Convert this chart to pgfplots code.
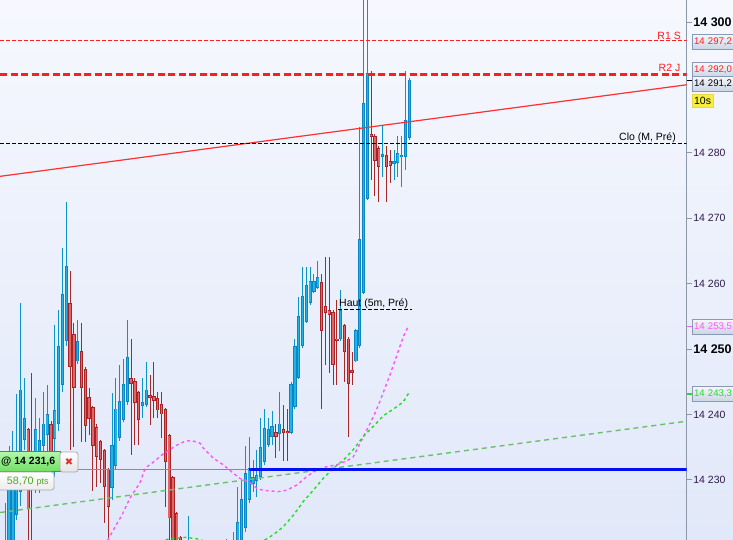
\documentclass[border=0pt]{standalone}
\usepackage{fontspec}
\setmainfont{Liberation Sans}
\newfontfamily\dejavu{DejaVu Sans}
\usepackage{pgfplots}
\usepackage{pgfplotstable}
\pgfplotsset{compat=1.18}

\definecolor{bgtop}{HTML}{F6F8FE}
\definecolor{bgbot}{HTML}{E1E8F9}
\definecolor{axisgray}{HTML}{8A98A8}
\definecolor{ticktext}{HTML}{2E1A4A}
\definecolor{bluefill}{HTML}{22B2E6}
\definecolor{blueedge}{HTML}{0A86C4}
\definecolor{bluewick}{HTML}{0A94CC}
\definecolor{redfill}{HTML}{E26464}
\definecolor{rededge}{HTML}{A82424}
\definecolor{redwick}{HTML}{A82828}
\definecolor{pinkma}{HTML}{FF55FF}
\definecolor{greenma}{HTML}{26DC26}
\definecolor{greenline}{HTML}{6CC06C}
\definecolor{levelred}{HTML}{FF1E1E}
\definecolor{trendred}{HTML}{FF3030}
\definecolor{bluelevel}{HTML}{0010F0}
\definecolor{graylevel}{HTML}{8C8C8C}
\definecolor{boxedge}{HTML}{8A9AB4}
\definecolor{boxtop}{HTML}{F4F6FA}
\definecolor{boxbot}{HTML}{CCD5E4}
\definecolor{ptsgreen}{HTML}{4CA820}

% candles: i O H L C
\pgfplotstableread{
i O H L C
0 14218 14226.5 14216 14220.5
1 14219 14235.1 14217 14231.5
2 14219 14237.4 14217 14233
3 14224.6 14243.1 14223.8 14234
4 14228.2 14257.0 14226 14243.8
5 14236.1 14245.5 14234.6 14239.5
8 14231 14242.5 14228 14237.7
9 14230 14239.5 14228 14236.1
10 14235.2 14243.5 14233.5 14238.6
11 14236.8 14244.5 14234.1 14240.1
13 14236.3 14253.7 14230.5 14240.7
14 14238.5 14256.0 14237.5 14250.5
15 14244.5 14265.4 14243.5 14258.4
16 14251.3 14272.5 14250.5 14262.7
19 14248.1 14254.4 14247.7 14251.2
28 14228.7 14243.3 14226.9 14235.3
29 14232.1 14245.5 14231.5 14240.9
30 14236.4 14247.6 14236 14242.0
31 14239.2 14248.4 14238.8 14244.7
32 14241.9 14254.4 14241.5 14248.8
36 14241.3 14245.5 14239.4 14241.9
37 14241.4 14248.0 14241.2 14243.8
48 14213 14224.5 14212 14218
51 14212 14218 14210 14215
53 14213 14218.5 14212 14216
54 14216 14219 14214 14217
56 14215 14219.5 14214 14217.5
57 14217.5 14220 14216 14218.5
58 14218.5 14221.0 14217 14219.5
59 14219 14220.5 14217.5 14220
60 14219 14222.1 14218 14220.5
61 14219.5 14228.9 14218 14223.5
62 14220 14229.9 14219 14227.0
63 14222.7 14235.1 14222 14231.0
64 14226.9 14236.5 14226.5 14231.8
65 14229.4 14233.0 14228.2 14230.4
66 14229.8 14234.6 14227.4 14230.7
67 14230.4 14239.4 14230 14235.0
68 14232.7 14240.9 14232.3 14237.9
69 14235.3 14239.4 14235.0 14237.7
70 14236.5 14240.5 14235.3 14238.2
72 14237.0 14243.4 14234.4 14238.6
75 14237.2 14244.9 14237 14244.7
76 14241.1 14251.6 14240.9 14250.5
77 14245.6 14258.0 14245.4 14255.0
78 14250.4 14262.5 14250.2 14258.1
79 14254.2 14262.5 14254 14259.8
80 14257.0 14262.5 14256.8 14260.4
81 14258.7 14261.5 14258.5 14260.4
82 14259.4 14263.4 14259.2 14261.0
88 14251.5 14259.0 14251.3 14255.9
92 14248.1 14253.0 14248 14252.9
93 14250.4 14284.0 14250.2 14266.8
94 14258.6 14305 14258.4 14287.6
95 14273.0 14305 14272.8 14292.2
99 14279.3 14284.1 14276.3 14279.8
102 14278.3 14280.4 14275.8 14278.7
103 14278.5 14282.6 14276.3 14279.9
104 14279.3 14282.6 14274.8 14279.7
105 14279.4 14292.5 14277.4 14285.0
106 14282.2 14291.4 14282 14291.2
}\bluec

\pgfplotstableread{
i O H L C
6 14237.7 14238.0 14219 14225.6
7 14233 14246.4 14219 14229
12 14238.5 14239 14231 14233
17 14257.0 14261.9 14234.6 14247.3
18 14252.3 14253.9 14235.0 14244.0
20 14249.7 14253.9 14235.8 14244.0
21 14247.0 14247.2 14235.8 14238.3
22 14242.6 14244.0 14236.8 14239.3
23 14241.1 14241.3 14228.3 14235.2
24 14238.1 14238.5 14228.9 14233.5
25 14235.9 14236.1 14229.5 14233.1
26 14234.5 14234.7 14223.4 14228.9
27 14231.6 14231.8 14219 14225.8
33 14245.5 14251.5 14233.8 14244.7
34 14245.1 14245.5 14235.4 14241.7
35 14243.4 14243.6 14235.4 14239.2
38 14242.9 14246.0 14238.4 14242.5
39 14242.8 14248.0 14239.4 14242.1
40 14242.5 14243.5 14239.4 14240.6
41 14241.6 14243.4 14236.4 14240.0
42 14240.8 14241.0 14225.9 14232.8
43 14236.8 14237.0 14219 14224.1
44 14230.4 14230.6 14216 14219
45 14224.9 14225.1 14215 14218
46 14221.3 14221.4 14213 14216
47 14217 14219 14212 14214
49 14218 14219.5 14213 14215
50 14215 14217 14210 14212
52 14215 14217 14211 14213
55 14217 14219 14213 14215
71 14237.3 14238.5 14233.4 14236.6
73 14237.7 14241.4 14232.9 14237.1
74 14237.5 14240.9 14232.9 14237.1
83 14260.2 14261.5 14240.9 14252.8
84 14256.5 14264.1 14247.6 14255.5
85 14256.0 14264.1 14246.4 14255.2
86 14255.7 14255.9 14244.5 14247.6
87 14251.6 14257.5 14244.5 14251.2
89 14253.6 14253.8 14245.0 14249.6
90 14251.6 14251.8 14236.5 14244.7
91 14246.8 14249.6 14244.5 14246.4
96 14282.8 14292.5 14275.8 14282.4
97 14282.6 14282.8 14273.4 14278.8
98 14280.7 14281.1 14272.4 14277.9
100 14279.7 14281.0 14272.4 14277.8
101 14278.7 14280.4 14275.4 14278.0
}\redc

\pgfplotsset{
  wick/.style={draw=none, mark=none, forget plot,
    error bars/.cd, y dir=plus, y explicit, error mark=none,
    error bar style={draw=#1, line width=1pt}},
  bodyout/.style={draw=none, mark=none, forget plot,
    error bars/.cd, y dir=plus, y explicit, error mark=none,
    error bar style={draw=#1, line width=3.3pt, line cap=butt}},
  bodyin/.style={draw=none, mark=none, forget plot,
    error bars/.cd, y dir=plus, y explicit, error mark=none,
    error bar style={draw=#1, line width=1.5pt, line cap=butt, shorten <=0.9pt, shorten >=0.9pt}},
}

\begin{document}
\begin{tikzpicture}
\path[use as bounding box] (0pt,0pt) rectangle (733pt,540pt);
\clip (0pt,0pt) rectangle (733pt,540pt);
\shade[top color=bgtop, bottom color=bgbot] (0pt,0pt) rectangle (733pt,540pt);
\begin{axis}[
  at={(0pt,0pt)}, anchor=south west,
  scale only axis, width=686.7pt, height=540pt,
  xmin=-1.39, xmax=178.8, ymin=14220.8, ymax=14303.36,
  axis x line=none, axis y line*=right,
  axis line style={draw=axisgray, line width=1pt},
  ytick={14230,14240,14250,14260,14270,14280,14300},
  yticklabels={14 230,14 240,{\color{black}\bfseries\fontsize{12.5}{14}\selectfont 14 250},14 260,14 270,14 280,{\color{black}\bfseries\fontsize{12.5}{14}\selectfont 14 300}},
  tick align=outside, major tick length=5pt,
  ytick style={draw=axisgray, line width=0.8pt},
  yticklabel style={anchor=west, inner sep=0pt, xshift=1.5pt, text=ticktext, font=\fontsize{10.5}{12}\selectfont},
  clip mode=individual,
]
% candles
\addplot[wick=bluewick] table[x=i, y=L, y error plus expr=\thisrow{H}-\thisrow{L}] \bluec;
\addplot[wick=redwick] table[x=i, y=L, y error plus expr=\thisrow{H}-\thisrow{L}] \redc;
\addplot[bodyout=blueedge] table[x=i, y=O, y error plus expr=\thisrow{C}-\thisrow{O}] \bluec;
\addplot[bodyin=bluefill] table[x=i, y=O, y error plus expr=\thisrow{C}-\thisrow{O}] \bluec;
\addplot[bodyout=rededge] table[x=i, y=C, y error plus expr=\thisrow{O}-\thisrow{C}] \redc;
\addplot[bodyin=redfill] table[x=i, y=C, y error plus expr=\thisrow{O}-\thisrow{C}] \redc;

% long green trend
\addplot[greenline, line width=1.4pt, dash pattern=on 5pt off 4pt, forget plot] coordinates {(-1.39,14225.0) (178.8,14238.96)};
% pink moving average
\addplot[pinkma, line width=1.4pt, dash pattern=on 3pt off 3pt, forget plot] coordinates {
(25.9,14220.0) (27.0,14220.9) (28.8,14222.8) (30.6,14224.6) (32.7,14227.2) (35.3,14229.5)
(36.7,14231.8) (38.4,14232.5) (41.5,14234.0) (45.0,14235.3) (47.2,14235.9) (48.9,14236.0)
(51.1,14235.6) (52.0,14234.8) (54.6,14233.3) (57.2,14232.3) (59.0,14231.4) (61.6,14230.2)
(64.2,14229.6) (66.0,14228.7) (67.6,14228.4) (69.5,14228.3) (71.6,14228.2) (73.8,14228.4)
(76.5,14229.2) (79.1,14230.5) (81.7,14231.5) (84.3,14232.0) (87.0,14232.3) (89.6,14232.9)
(91.3,14233.5) (93.1,14235.6) (94.4,14237.1) (95.7,14238.6) (97.0,14240.2) (98.1,14241.7)
(99.6,14244.0) (100.9,14246.0) (102.3,14248.3) (103.6,14250.5) (104.6,14252.1) (105.7,14253.4)};
% green moving average
\addplot[greenma, line width=1.4pt, dash pattern=on 3pt off 3pt, forget plot] coordinates {
(38.0,14219.5) (40.6,14220.6) (43.2,14221.0) (47.2,14221.2) (50.3,14221.0) (52.4,14220.6)
(56.3,14219.2) (61.6,14218.5) (65.5,14219.2) (68.1,14220.8) (70.3,14221.6) (72.9,14222.8)
(75.6,14224.6) (78.2,14226.7) (80.8,14228.4) (83.4,14230.2) (86.1,14231.8) (88.7,14233.0)
(91.3,14234.6) (93.9,14236.6) (96.6,14238.2) (99.2,14239.8) (101.8,14240.8) (104.4,14241.9)
(105.8,14243.2)};
% red trend line
\addplot[trendred, line width=1.2pt, forget plot] coordinates {(-1.39,14276.4) (178.8,14290.4)};
% levels
\addplot[levelred, line width=1pt, dash pattern=on 3.5pt off 2.5pt, forget plot] coordinates {(-1.39,14297.2) (178.8,14297.2)};
\addplot[levelred, line width=2.6pt, dash pattern=on 7pt off 3.5pt, forget plot] coordinates {(-1.39,14292.0) (178.8,14292.0)};
\addplot[black, line width=1pt, dash pattern=on 3.5pt off 2.5pt, forget plot] coordinates {(-1.39,14281.4) (178.8,14281.4)};
\addplot[black, line width=1.2pt, dash pattern=on 3.5pt off 2.5pt, forget plot] coordinates {(87.3,14256.0) (106.7,14256.0)};
\addplot[graylevel, line width=1.2pt, forget plot] coordinates {(-1.39,14231.6) (64.0,14231.6)};
\addplot[bluelevel, line width=3pt, forget plot] coordinates {(64.0,14231.6) (178.8,14231.6)};
\end{axis}

\begin{scope}[x=1pt,y=1pt,
  rbox/.style={anchor=west, draw=boxedge, line width=0.8pt, top color=boxtop, bottom color=boxbot,
    minimum height=14.5pt, inner xsep=2.2pt, inner ysep=0pt, text width=50pt, align=left,
    font=\fontsize{9.6}{11}\selectfont}]
% level labels
\node[anchor=base east, text=levelred, font=\fontsize{10.5}{12}\selectfont, inner sep=0pt] at (681,500.7) {R1 S};
\node[anchor=base east, text=levelred, font=\fontsize{10.5}{12}\selectfont, inner sep=0pt] at (680.5,468.3) {R2 J};
\node[anchor=base east, text=black, font=\fontsize{10.5}{12}\selectfont, inner sep=0pt] at (676,399) {Clo (M, Pré)};
\node[anchor=base west, text=black, font=\fontsize{10.5}{12}\selectfont, inner sep=0pt] at (339,233) {Haut (5m, Pré)};
% right boxes
\node[rbox, text=levelred] at (691.5,498.2) {14 297,2};
\node[rbox, text=levelred] at (691.5,470) {14 292,0};
\node[rbox, text=black] at (691.5,456) {14 291,2};
\draw[black, line width=1pt] (687,459.5) -- (691.5,459.5);
\node[anchor=west, draw={rgb,255:red,232;green,214;blue,70}, line width=0.8pt, fill={rgb,255:red,248;green,238;blue,60},
  minimum height=13pt, minimum width=21pt, inner sep=0pt, font=\fontsize{10.5}{12}\selectfont] at (691.7,439.2) {10s};
\node[rbox, text=pinkma] at (691.5,213.2) {14 253,5};
\draw[pinkma, line width=1.2pt] (687,213.2) -- (691.5,213.2);
\node[rbox, text=greenma] at (691.5,146) {14 243,3};
\draw[greenma, line width=1.2pt] (687,146) -- (691.5,146);
% left boxes
\shadedraw[top color={rgb,255:red,176;green,248;blue,168}, bottom color={rgb,255:red,110;green,222;blue,96},
  draw={rgb,255:red,48;green,160;blue,48}, line width=1pt] (-2,68) rectangle (60,88);
\node[anchor=west, inner sep=0pt, font=\bfseries\fontsize{10.5}{12}\selectfont] at (1,78) {@ 14 231,6};
\shadedraw[top color=white, bottom color={rgb,255:red,228;green,228;blue,228},
  draw={rgb,255:red,168;green,168;blue,168}, line width=0.8pt, rounded corners=2.5pt] (60,68) rectangle (78,88);
\node[text={rgb,255:red,224;green,48;blue,48}, font=\dejavu\bfseries\fontsize{10}{12}\selectfont, inner sep=0pt] at (69,78) {✖};
\shadedraw[top color=white, bottom color={rgb,255:red,236;green,236;blue,236},
  draw={rgb,255:red,168;green,168;blue,168}, line width=0.8pt, rounded corners=2.5pt] (-4,50) rectangle (54,68);
\node[anchor=base west, inner sep=0pt, text=ptsgreen] at (6.7,55) {\fontsize{10.7}{12}\selectfont 58,70 \fontsize{9}{10}\selectfont pts};
\end{scope}
\end{tikzpicture}
\end{document}
